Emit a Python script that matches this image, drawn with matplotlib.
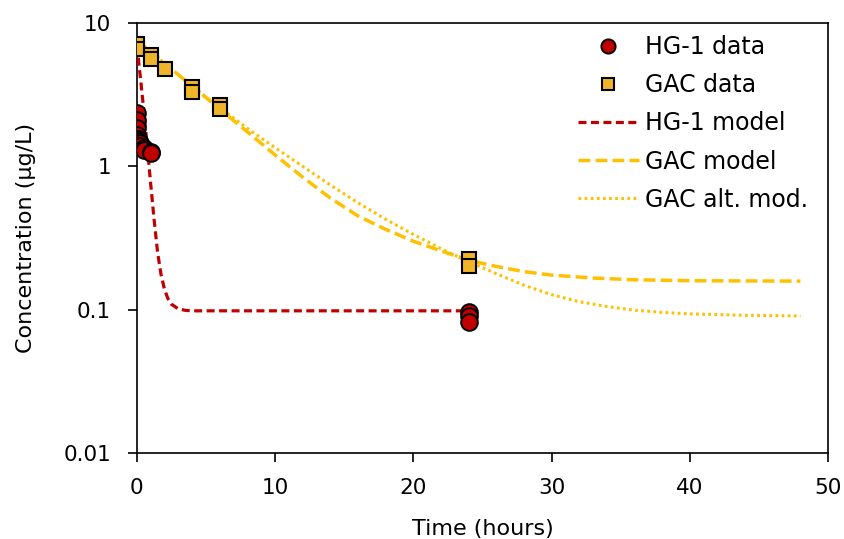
import numpy as np
import matplotlib
matplotlib.use("Agg")
import matplotlib.pyplot as plt
from matplotlib.ticker import FixedLocator, NullLocator

plt.rcParams['font.family'] = ['DejaVu Sans']

# measured concentrations
hg1_t = [0, 0, 0, 0, 0.083, 0.167, 0.25, 0.25, 0.5, 0.5, 1.0, 1.0, 24, 24, 24]
hg1_c = [2.35, 2.1, 1.85, 1.65, 1.55, 1.5, 1.45, 1.38, 1.35, 1.3, 1.26, 1.24, 0.096, 0.09, 0.082]

gac_t = [0, 0, 1, 1, 2, 4, 4, 6, 6, 24, 24]
gac_c = [7.2, 6.6, 6.0, 5.6, 4.8, 3.57, 3.3, 2.68, 2.51, 0.225, 0.2]

# model curves (values at listed times)
hg1_mod_t = [0, 0.25, 0.5, 0.75, 1.0, 1.25, 1.5, 1.75, 2.0, 2.25, 2.5, 3.0, 3.5, 4.0, 24]
hg1_mod_c = [7.0, 4.2, 2.45, 1.38, 0.75, 0.42, 0.25, 0.175, 0.138, 0.119, 0.109, 0.101, 0.0988, 0.098, 0.098]

gac_mod_t = [0, 2, 4, 6, 8, 10, 12, 14, 16, 18, 20, 22, 24, 26, 28, 30, 33, 36, 40, 44, 48]
gac_mod_c = [7.6, 5.25, 3.63, 2.51, 1.74, 1.2, 0.84, 0.60, 0.45, 0.363, 0.30, 0.257,
             0.221, 0.2, 0.184, 0.174, 0.166, 0.1615, 0.159, 0.1585, 0.158]

gac_alt_t = [0, 2, 4, 6, 8, 10, 12, 14, 16, 18, 20, 22, 24, 26, 28, 30, 32, 34, 36, 38, 40, 44, 48]
gac_alt_c = [7.6, 5.25, 3.63, 2.57, 1.84, 1.35, 1.0, 0.74, 0.556, 0.427, 0.335, 0.266, 0.216,
             0.178, 0.148, 0.127, 0.1135, 0.105, 0.099, 0.0955, 0.0933, 0.0912, 0.0902]

red = '#C00000'
gold = '#FFC000'
sq_fill = '#EFB429'

fig = plt.figure(figsize=(8.45, 5.39), dpi=100)
ax = fig.add_axes([0.162, 0.16, 0.818, 0.797])

ax.plot(hg1_t, hg1_c, 'o', ms=12, mfc=red, mec='black', mew=1.4, label='HG-1 data', zorder=4)
ax.plot(gac_t, gac_c, 's', ms=10.5, mfc=sq_fill, mec='black', mew=1.5, label='GAC data', zorder=4)
ax.plot(hg1_mod_t, hg1_mod_c, color=red, lw=2.3, dashes=(2.5, 1.4), label='HG-1 model', zorder=3)
ax.plot(gac_mod_t, gac_mod_c, color=gold, lw=2.5, dashes=(3.4, 1.5), label='GAC model', zorder=3)
ax.plot(gac_alt_t, gac_alt_c, color=gold, lw=2.2, dashes=(0.9, 1.1), label='GAC alt. mod.', zorder=3)

ax.set_yscale('log')
ax.set_ylim(0.01, 10)
ax.set_xlim(0, 50)
ax.yaxis.set_major_locator(FixedLocator([0.01, 0.1, 1, 10]))
ax.yaxis.set_minor_locator(NullLocator())
ax.set_yticklabels(['0.01', '0.1', '1', '10'])
ax.set_xticks([0, 10, 20, 30, 40, 50])

for s in ax.spines.values():
    s.set_linewidth(1.2)
ax.tick_params(direction='out', length=6.5, width=1.2, labelsize=15.5, pad=12)

ax.set_xlabel('Time (hours)', fontsize=16, labelpad=15)
ax.set_ylabel('Concentration (µg/L)', fontsize=16, labelpad=20)

ax.legend(loc='upper right', bbox_to_anchor=(1.0, 1.019), frameon=False, fontsize=17,
          handlelength=2.6, handletextpad=0.25, labelspacing=0.6, borderaxespad=0.45,
          markerscale=0.85)

fig.savefig('out.png', dpi=100)
